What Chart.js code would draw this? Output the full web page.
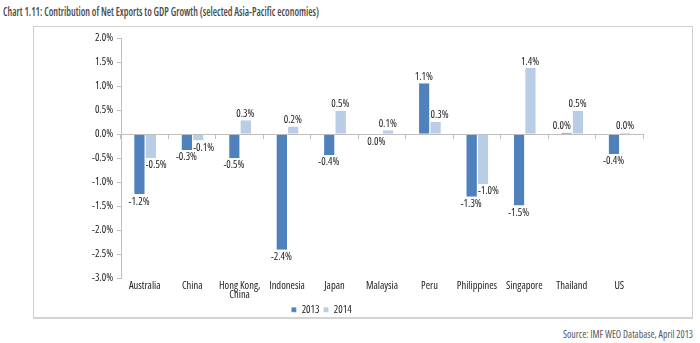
<!DOCTYPE html>
<html>
<head>
<meta charset="utf-8">
<script src="https://cdn.jsdelivr.net/npm/chart.js@4"></script>
<style>
  body { margin: 0; width: 700px; height: 343px; background: #fff; position: relative; overflow: hidden;
         font-family: 'Open Sans', sans-serif; font-stretch: condensed; }
  #title { position: absolute; left: 3px; top: 3px; font-size: 12px; font-weight: 600; color: #4a4a4a;
           white-space: nowrap; transform-origin: 0 0; }
  #frame { position: absolute; left: 33px; top: 26px; width: 658px; height: 290px;
           border: 1px solid #cfcfcf; border-bottom: 2px solid #d4d4d4; }
  #source { position: absolute; left: 563px; top: 327px; font-size: 10px; color: #555; white-space: nowrap;
            transform-origin: 0 0; }
  #chartWrap { position: absolute; left: 0; top: 0; width: 700px; height: 343px; }
</style>
</head>
<body>
<div id="title">Chart 1.11: Contribution of Net Exports to GDP Growth (selected Asia-Pacific economies)</div>
<div id="frame"></div>
<div id="source">Source: IMF WEO Database, April 2013</div>
<div id="chartWrap"><canvas id="netExports"></canvas></div>
<script>
const categories = ['Australia', 'China', ['Hong Kong,', 'China'], 'Indonesia', 'Japan', 'Malaysia',
                    'Peru', 'Philippines', 'Singapore', 'Thailand', 'US'];
const values2013 = [-1.25, -0.33, -0.5, -2.4, -0.43, -0.01, 1.06, -1.3, -1.48, 0.03, -0.41];
const values2014 = [-0.5, -0.13, 0.29, 0.16, 0.49, 0.08, 0.26, -1.04, 1.38, 0.49, 0.03];
const seriesNames = ['2013', '2014'];

const FONT = "'Open Sans', sans-serif";
// canvas font strings have no stretch option of their own, so it rides in the weight slot
const STRETCH = 'normal condensed';
const axisGrey = '#bfbfbf';

// squeeze a header line to a set width
function fitWidth(id, w) {
    const el = document.getElementById(id);
    el.style.transform = 'scaleX(' + (w / el.getBoundingClientRect().width) + ')';
}
fitWidth('title', 316);
fitWidth('source', 130);

// value labels above positive bars, below negative ones;
// a label that would sit on the longer neighbouring bar is pushed off to the side
const barLabels = {
    id: 'barLabels',
    afterDatasetsDraw(chart) {
        const ctx = chart.ctx;
        const sets = chart.data.datasets;
        ctx.save();
        ctx.font = STRETCH + ' 10.5px ' + FONT;
        ctx.fillStyle = '#222';
        sets.forEach((ds, di) => {
            const meta = chart.getDatasetMeta(di);
            const other = 1 - di;
            const otherMeta = chart.getDatasetMeta(other);
            meta.data.forEach((bar, i) => {
                const v = ds.data[i];
                const ov = sets[other].data[i];
                const txt = (Math.round(v * 10) / 10).toFixed(1) + '%';
                let x = bar.x;
                ctx.textAlign = 'center';
                if (v * ov > 0 && Math.abs(ov) > Math.abs(v)) {
                    const nb = otherMeta.data[i];
                    if (nb.x < bar.x) {
                        ctx.textAlign = 'left';
                        x = bar.x - bar.width / 2 + 1;
                    } else {
                        ctx.textAlign = 'right';
                        x = bar.x + bar.width / 2 - 1;
                    }
                }
                if (v >= 0) {
                    ctx.textBaseline = 'bottom';
                    ctx.fillText(txt, x, bar.y - 1);
                } else {
                    ctx.textBaseline = 'top';
                    ctx.fillText(txt, x, bar.y + 2);
                }
            });
        });
        ctx.restore();
    }
};

Chart.defaults.font.family = FONT;
Chart.defaults.font.size = 10.5;
Chart.defaults.font.weight = STRETCH;
Chart.defaults.color = '#222';

new Chart(document.getElementById('netExports'), {
    type: 'bar',
    data: {
        labels: categories,
        datasets: [
            { label: seriesNames[0], data: values2013, backgroundColor: '#4f81bd',
              borderColor: '#ffffff', borderWidth: { left: 1, right: 0, top: 0, bottom: 0 } },
            { label: seriesNames[1], data: values2014, backgroundColor: '#b9cde5',
              borderColor: '#ffffff', borderWidth: { left: 1, right: 0, top: 0, bottom: 0 } }
        ]
    },
    options: {
        responsive: true,
        maintainAspectRatio: false,
        animation: false,
        datasets: { bar: { categoryPercentage: 0.48, barPercentage: 1 } },
        layout: { padding: { top: 38, right: 57, bottom: 18, left: 0 } },
        plugins: {
            title: { display: false },
            tooltip: { enabled: false },
            legend: {
                position: 'bottom',
                labels: { boxWidth: 5, boxHeight: 5, padding: 4, font: { size: 10.5 } }
            }
        },
        scales: {
            x: {
                type: 'category',
                position: { y: 0 },
                offset: true,
                ticks: { display: false },
                grid: { drawOnChartArea: false, tickLength: 4, color: axisGrey, offset: true },
                border: { color: axisGrey }
            },
            xLabels: {
                type: 'category',
                position: 'bottom',
                labels: categories,
                offset: true,
                grid: { display: false },
                border: { display: false },
                ticks: { padding: -5, maxRotation: 0, autoSkip: false, font: { size: 10.5, lineHeight: 0.85 } },
                afterFit(scale) { scale.height = 22; }
            },
            y: {
                min: -3,
                max: 2,
                ticks: { stepSize: 0.5, padding: 4, callback: v => v.toFixed(1) + '%' },
                grid: { drawOnChartArea: false, tickLength: 4, color: axisGrey },
                border: { color: axisGrey },
                afterFit(scale) { scale.width = 121; }
            }
        }
    },
    plugins: [barLabels]
});
</script>
</body>
</html>
